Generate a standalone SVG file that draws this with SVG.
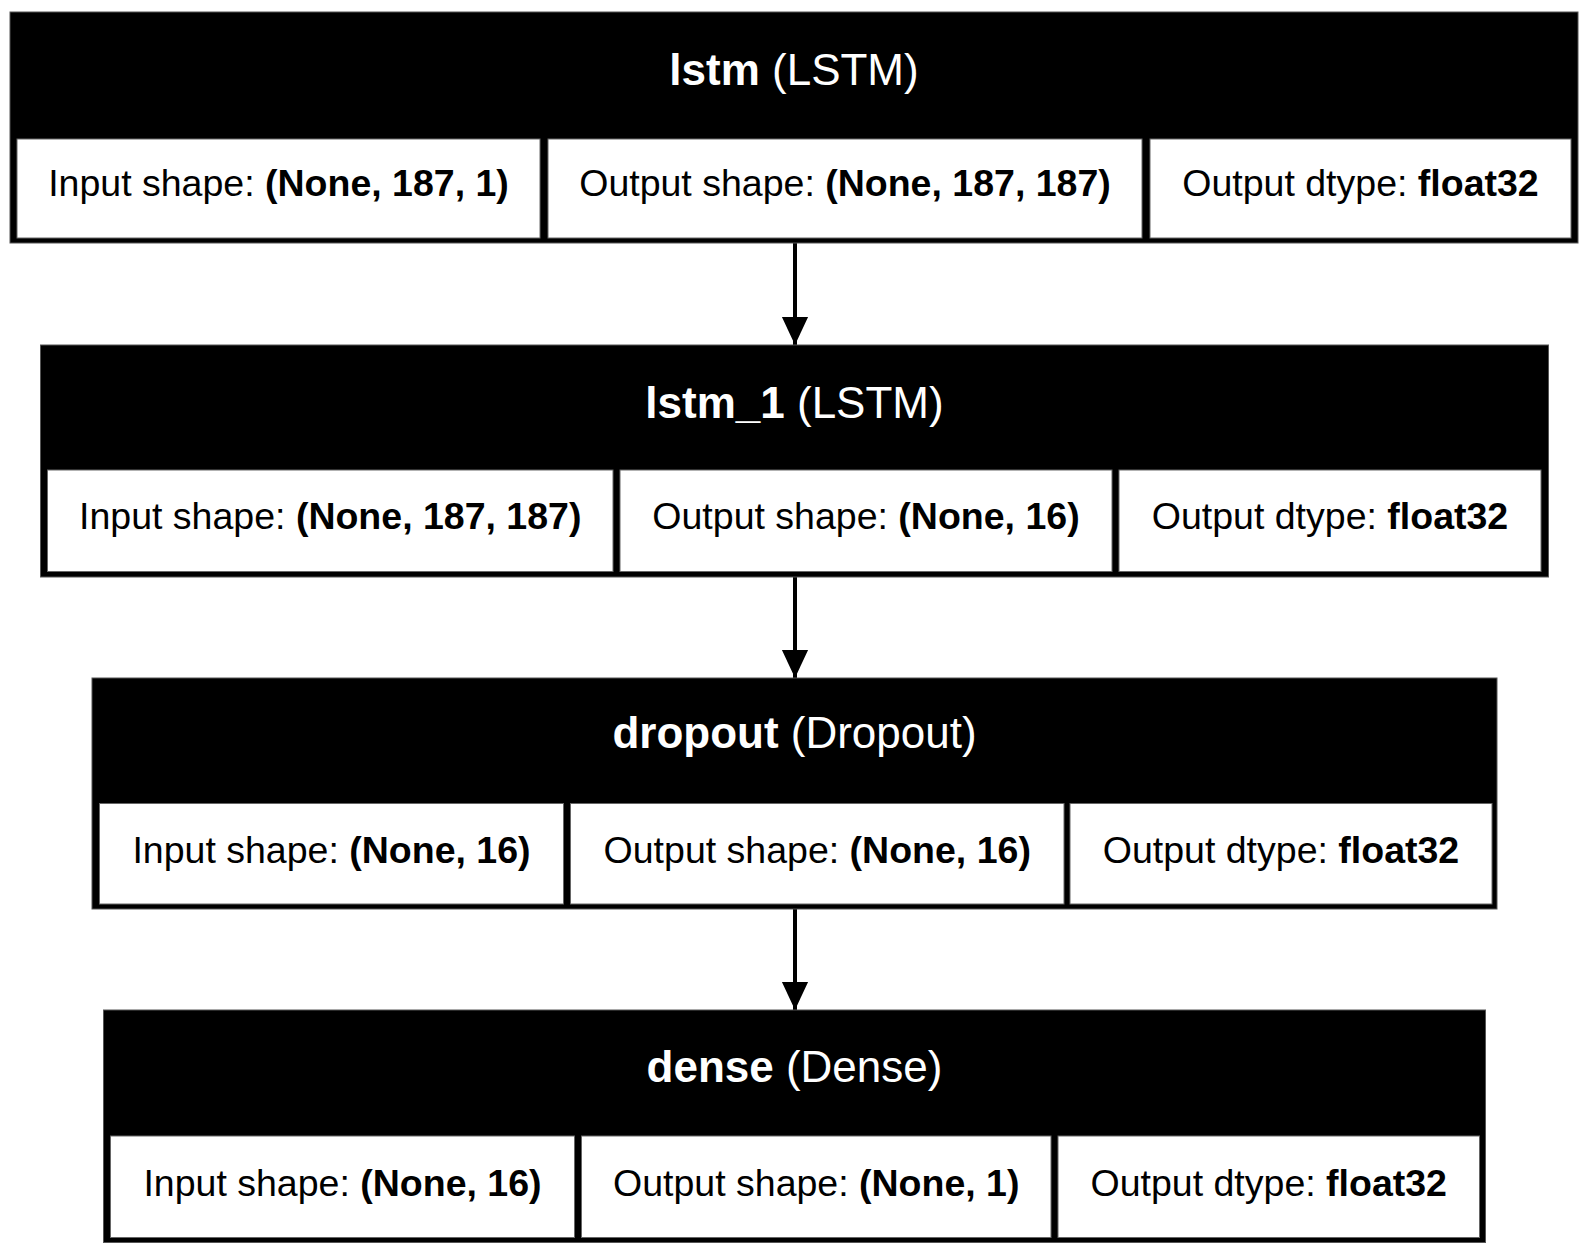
<svg xmlns="http://www.w3.org/2000/svg" width="1589" height="1256" viewBox="0 0 1589 1256">
<style>
.outer{fill:#000;stroke:#555;stroke-width:1}
.cell{fill:#fff;stroke:#666;stroke-width:1}
.title{font-family:"Liberation Sans",Arial,sans-serif;font-size:44px;fill:#fff;text-anchor:middle}
.txt{font-family:"Liberation Sans",Arial,sans-serif;font-size:37.5px;fill:#000;text-anchor:middle}
.b{font-weight:bold}
.edge{stroke:#000;stroke-width:4;fill:none}
</style>
<defs>
<marker id="arr" markerUnits="userSpaceOnUse" markerWidth="28" markerHeight="30" refX="30" refY="14" orient="auto" viewBox="0 0 30 28">
<polygon points="0,0 30,14 0,28" fill="#000"/>
</marker>
</defs>
<rect width="1589" height="1256" fill="#fff"/>
<g id="connectors">
<line class="edge" x1="795" y1="243" x2="795" y2="345" marker-end="url(#arr)"/>
<line class="edge" x1="795" y1="577" x2="795" y2="678" marker-end="url(#arr)"/>
<line class="edge" x1="795" y1="909" x2="795" y2="1010" marker-end="url(#arr)"/>
</g>
<g id="lstm">
<rect class="outer" x="10" y="12" width="1568" height="231"/>
<text class="title" x="794" y="85"><tspan class="b">lstm</tspan> (LSTM)</text>
<rect class="cell" x="17" y="139" width="523" height="99"/>
<rect class="cell" x="548" y="139" width="594" height="99"/>
<rect class="cell" x="1150" y="139" width="421" height="99"/>
<text class="txt" x="278.5" y="196">Input shape: <tspan class="b">(None, 187, 1)</tspan></text>
<text class="txt" x="845" y="196">Output shape: <tspan class="b">(None, 187, 187)</tspan></text>
<text class="txt" x="1360.5" y="196">Output dtype: <tspan class="b">float32</tspan></text>
</g>
<g id="lstm_1">
<rect class="outer" x="40.5" y="345" width="1508" height="232"/>
<text class="title" x="794.5" y="418"><tspan class="b">lstm_1</tspan> (LSTM)</text>
<rect class="cell" x="47.5" y="470" width="565.5" height="101.5"/>
<rect class="cell" x="620" y="470" width="492" height="101.5"/>
<rect class="cell" x="1119" y="470" width="422" height="101.5"/>
<text class="txt" x="330.25" y="529">Input shape: <tspan class="b">(None, 187, 187)</tspan></text>
<text class="txt" x="866" y="529">Output shape: <tspan class="b">(None, 16)</tspan></text>
<text class="txt" x="1330" y="529">Output dtype: <tspan class="b">float32</tspan></text>
</g>
<g id="dropout">
<rect class="outer" x="92" y="678" width="1405" height="231"/>
<text class="title" x="794.5" y="748"><tspan class="b">dropout</tspan> (Dropout)</text>
<rect class="cell" x="99.5" y="803.5" width="464" height="100.5"/>
<rect class="cell" x="570.5" y="803.5" width="493.5" height="100.5"/>
<rect class="cell" x="1070" y="803.5" width="422" height="100.5"/>
<text class="txt" x="331.5" y="862.5">Input shape: <tspan class="b">(None, 16)</tspan></text>
<text class="txt" x="817.25" y="862.5">Output shape: <tspan class="b">(None, 16)</tspan></text>
<text class="txt" x="1281" y="862.5">Output dtype: <tspan class="b">float32</tspan></text>
</g>
<g id="dense">
<rect class="outer" x="103.5" y="1010" width="1382" height="232.5"/>
<text class="title" x="794.5" y="1082"><tspan class="b">dense</tspan> (Dense)</text>
<rect class="cell" x="110.5" y="1136" width="464" height="101.5"/>
<rect class="cell" x="581.5" y="1136" width="469.5" height="101.5"/>
<rect class="cell" x="1058" y="1136" width="421.5" height="101.5"/>
<text class="txt" x="342.5" y="1196">Input shape: <tspan class="b">(None, 16)</tspan></text>
<text class="txt" x="816.25" y="1196">Output shape: <tspan class="b">(None, 1)</tspan></text>
<text class="txt" x="1268.75" y="1196">Output dtype: <tspan class="b">float32</tspan></text>
</g>
</svg>
